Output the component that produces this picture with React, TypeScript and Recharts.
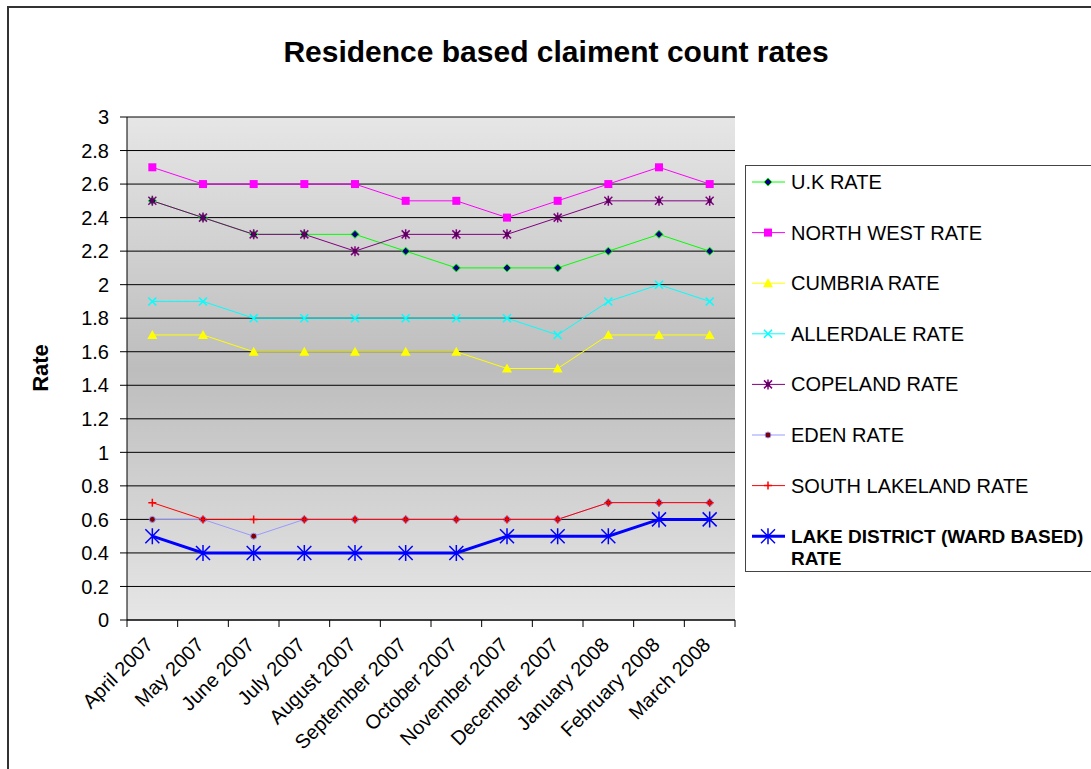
import { LineChart, Line, XAxis, YAxis, CartesianGrid, Legend } from "recharts";

const months = [
  "April 2007",
  "May 2007",
  "June 2007",
  "July 2007",
  "August 2007",
  "September 2007",
  "October 2007",
  "November 2007",
  "December 2007",
  "January 2008",
  "February 2008",
  "March 2008",
];

const ukRate = [2.5, 2.4, 2.3, 2.3, 2.3, 2.2, 2.1, 2.1, 2.1, 2.2, 2.3, 2.2];
const northWestRate = [2.7, 2.6, 2.6, 2.6, 2.6, 2.5, 2.5, 2.4, 2.5, 2.6, 2.7, 2.6];
const cumbriaRate = [1.7, 1.7, 1.6, 1.6, 1.6, 1.6, 1.6, 1.5, 1.5, 1.7, 1.7, 1.7];
const allerdaleRate = [1.9, 1.9, 1.8, 1.8, 1.8, 1.8, 1.8, 1.8, 1.7, 1.9, 2.0, 1.9];
const copelandRate = [2.5, 2.4, 2.3, 2.3, 2.2, 2.3, 2.3, 2.3, 2.4, 2.5, 2.5, 2.5];
const edenRate = [0.6, 0.6, 0.5, 0.6, 0.6, 0.6, 0.6, 0.6, 0.6, 0.7, 0.7, 0.7];
const southLakelandRate = [0.7, 0.6, 0.6, 0.6, 0.6, 0.6, 0.6, 0.6, 0.6, 0.7, 0.7, 0.7];
const lakeDistrictRate = [0.5, 0.4, 0.4, 0.4, 0.4, 0.4, 0.4, 0.5, 0.5, 0.5, 0.6, 0.6];

const rateTicks = [0, 0.2, 0.4, 0.6, 0.8, 1, 1.2, 1.4, 1.6, 1.8, 2, 2.2, 2.4, 2.6, 2.8, 3];

const data = months.map((month, i) => ({
  month,
  uk: ukRate[i],
  northWest: northWestRate[i],
  cumbria: cumbriaRate[i],
  allerdale: allerdaleRate[i],
  copeland: copelandRate[i],
  eden: edenRate[i],
  southLakeland: southLakelandRate[i],
  lakeDistrict: lakeDistrictRate[i],
}));

type MarkerKind = "diamond" | "square" | "triangle" | "cross" | "star" | "dot" | "plus" | "bigStar";

const series: { key: string; name: string; color: string; width: number; marker: MarkerKind }[] = [
  { key: "uk", name: "U.K RATE", color: "#00ff00", width: 1, marker: "diamond" },
  { key: "northWest", name: "NORTH WEST RATE", color: "#ff00ff", width: 1, marker: "square" },
  { key: "cumbria", name: "CUMBRIA RATE", color: "#ffff00", width: 1, marker: "triangle" },
  { key: "allerdale", name: "ALLERDALE RATE", color: "#00ffff", width: 1, marker: "cross" },
  { key: "copeland", name: "COPELAND RATE", color: "#800080", width: 1, marker: "star" },
  { key: "eden", name: "EDEN RATE", color: "#9999ff", width: 1, marker: "dot" },
  { key: "southLakeland", name: "SOUTH LAKELAND RATE", color: "#ff0000", width: 1, marker: "plus" },
  { key: "lakeDistrict", name: "LAKE DISTRICT (WARD BASED) RATE", color: "#0000ff", width: 3, marker: "bigStar" },
];

const W = 1091;
const H = 769;
const PLOT_LEFT = 127;
const PLOT_RIGHT = 735;
const PLOT_TOP = 117;
const PLOT_BOTTOM = 620;
const BAND = (PLOT_RIGHT - PLOT_LEFT) / months.length;
const FONT = "'Liberation Sans', Arial, sans-serif";
const TICK_FONT = 20;

function Marker({ kind, cx, cy, color }: { kind: MarkerKind; cx: number; cy: number; color: string }) {
  switch (kind) {
    case "diamond":
      return (
        <polygon
          points={`${cx},${cy - 4} ${cx + 4},${cy} ${cx},${cy + 4} ${cx - 4},${cy}`}
          fill="#000080"
          stroke={color}
          strokeWidth={1}
        />
      );
    case "square":
      return <rect x={cx - 4} y={cy - 4} width={8} height={8} fill={color} />;
    case "triangle":
      return <polygon points={`${cx},${cy - 5} ${cx + 5},${cy + 4} ${cx - 5},${cy + 4}`} fill={color} />;
    case "cross":
      return (
        <path d={`M${cx - 4},${cy - 4}L${cx + 4},${cy + 4}M${cx - 4},${cy + 4}L${cx + 4},${cy - 4}`} stroke={color} strokeWidth={1.5} />
      );
    case "star":
      return (
        <g>
          <path
            d={`M${cx - 4},${cy - 4}L${cx + 4},${cy + 4}M${cx - 4},${cy + 4}L${cx + 4},${cy - 4}M${cx},${cy - 5}L${cx},${cy + 5}`}
            stroke={color}
            strokeWidth={1.5}
          />
          <rect x={cx - 2} y={cy - 2} width={4} height={4} fill="#5a005a" />
        </g>
      );
    case "dot":
      return <circle cx={cx} cy={cy} r={3} fill="#800000" stroke={color} strokeWidth={1} />;
    case "plus":
      return <path d={`M${cx - 4},${cy}L${cx + 4},${cy}M${cx},${cy - 4}L${cx},${cy + 4}`} stroke={color} strokeWidth={1.5} />;
    case "bigStar":
      return (
        <path
          d={`M${cx - 7},${cy - 7}L${cx + 7},${cy + 7}M${cx - 7},${cy + 7}L${cx + 7},${cy - 7}M${cx},${cy - 8}L${cx},${cy + 8}`}
          stroke={color}
          strokeWidth={1.5}
        />
      );
  }
  return null;
}

// category labels sit mid-band, tick marks sit on the band edges
function MonthTick(props: any) {
  const { x, y, payload, index } = props;
  const half = BAND / 2;
  const tx = x + 2;
  const ty = y + 26;
  return (
    <g>
      <line x1={x - half} x2={x - half} y1={y} y2={y + 7} stroke="#000" />
      {index === months.length - 1 && <line x1={x + half} x2={x + half} y1={y} y2={y + 7} stroke="#000" />}
      <text
        x={tx}
        y={ty}
        textAnchor="end"
        transform={`rotate(-45, ${tx}, ${ty})`}
        fontSize={TICK_FONT}
        fontFamily={FONT}
        fill="#000"
      >
        {payload.value}
      </text>
    </g>
  );
}

function RateTick(props: any) {
  const { x, y, payload } = props;
  return (
    <text x={x} y={y} dy="0.36em" textAnchor="end" fontSize={TICK_FONT} fontFamily={FONT} fill="#000">
      {String(payload.value)}
    </text>
  );
}

function LegendBox() {
  const rowGap = 50.6;
  return (
    <svg width={400} height={407} style={{ display: "block", fontFamily: FONT }}>
      <rect x={0.5} y={0.5} width={420} height={406} fill="#fff" stroke="#444" />
      {series.map((s, i) => {
        const cy = 17 + i * rowGap;
        const bold = s.key === "lakeDistrict";
        return (
          <g key={s.key}>
            <line x1={7} x2={40} y1={cy} y2={cy} stroke={s.color} strokeWidth={s.width} />
            <Marker kind={s.marker} cx={23} cy={cy} color={s.color} />
            {bold ? (
              <text x={46} y={cy + 7} fontSize={19} fontWeight="bold" fill="#000">
                <tspan x={46}>LAKE DISTRICT (WARD BASED)</tspan>
                <tspan x={46} dy={21.5}>RATE</tspan>
              </text>
            ) : (
              <text x={46} y={cy + 7} fontSize={TICK_FONT} fill="#000">
                {s.name}
              </text>
            )}
          </g>
        );
      })}
    </svg>
  );
}

export default function App() {
  return (
    <div
      style={{
        position: "absolute",
        left: 0,
        top: 0,
        width: W,
        height: H,
        overflow: "hidden",
        background: "#fff",
        fontFamily: FONT,
      }}
    >
      <div
        style={{
          position: "absolute",
          left: 7,
          top: 6,
          width: W + 20,
          height: H + 20,
          borderLeft: "2px solid #333",
          borderTop: "2px solid #333",
        }}
      />
      <LineChart
        width={W}
        height={H}
        data={data}
        margin={{ top: PLOT_TOP, right: W - PLOT_RIGHT, bottom: 0, left: 0 }}
        style={{ position: "absolute", left: 0, top: 0 }}
      >
        <defs>
          <linearGradient id="plotBg" x1="0" y1="0" x2="0" y2="1">
            <stop offset="0%" stopColor="#e6e6e6" />
            <stop offset="50%" stopColor="#bdbdbd" />
            <stop offset="100%" stopColor="#e6e6e6" />
          </linearGradient>
        </defs>
        <CartesianGrid vertical={false} stroke="#000" fill="url(#plotBg)" fillOpacity={1} />
        <XAxis
          dataKey="month"
          height={H - PLOT_BOTTOM}
          padding={{ left: BAND / 2, right: BAND / 2 }}
          interval={0}
          tickLine={false}
          tickSize={0}
          tickMargin={0}
          axisLine={{ stroke: "#000" }}
          tick={<MonthTick />}
        />
        <YAxis
          width={PLOT_LEFT}
          domain={[0, 3]}
          ticks={rateTicks}
          interval={0}
          tickSize={7}
          tickMargin={11}
          axisLine={{ stroke: "#000" }}
          tickLine={{ stroke: "#000" }}
          tick={<RateTick />}
        />
        {series.map((s) => (
          <Line
            key={s.key}
            dataKey={s.key}
            name={s.name}
            stroke={s.color}
            strokeWidth={s.width}
            isAnimationActive={false}
            activeDot={false}
            dot={(p: any) => <Marker key={`${s.key}-${p.index}`} kind={s.marker} cx={p.cx} cy={p.cy} color={s.color} />}
          />
        ))}
        <Legend
          layout="vertical"
          align="center"
          verticalAlign="middle"
          content={() => <LegendBox />}
          wrapperStyle={{ left: 745, top: 165, width: 400, height: 407 }}
        />
      </LineChart>
      <svg
        width={W}
        height={H}
        style={{ position: "absolute", left: 0, top: 0, pointerEvents: "none", fontFamily: FONT }}
      >
        <text x={556} y={62} textAnchor="middle" fontSize={30} fontWeight="bold" fill="#000">
          Residence based claiment count rates
        </text>
        <text x={48} y={368} textAnchor="middle" fontSize={22} fontWeight="bold" fill="#000" transform="rotate(-90, 48, 368)">
          Rate
        </text>
      </svg>
    </div>
  );
}
